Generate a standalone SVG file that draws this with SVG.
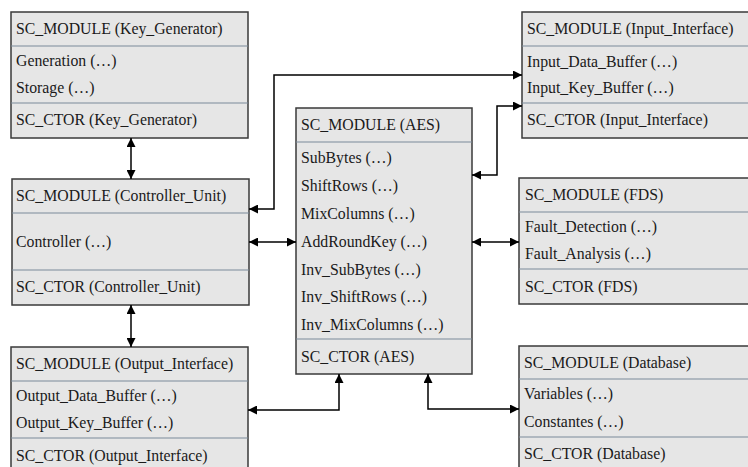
<svg xmlns="http://www.w3.org/2000/svg" width="748" height="467" viewBox="0 0 748 467">
<style>
.box{fill:#e6e6e6;stroke:#3a3a3a;stroke-width:1.5}
.div{stroke:#7a8a99;stroke-width:1.2}
text{font-family:'Liberation Serif','Times New Roman','DejaVu Serif',serif;font-size:15.8px;fill:#1a1a1a}
.c{fill:none;stroke:#000;stroke-width:1.5}
</style>
<defs>
<marker id="a" viewBox="0 0 10 10" refX="10" refY="5" markerWidth="9" markerHeight="9" markerUnits="userSpaceOnUse" orient="auto-start-reverse"><path d="M0,0L10,5L0,10z" fill="#000"/></marker>
</defs>
<rect width="748" height="467" fill="#fff"/>
<g id="key_generator">
<rect class="box" x="11" y="12" width="237" height="126"/>
<line class="div" x1="11" y1="46" x2="248" y2="46"/>
<line class="div" x1="11" y1="103" x2="248" y2="103"/>
<text x="16" y="34">SC_MODULE (Key_Generator)</text>
<text x="16" y="66">Generation (…)</text>
<text x="16" y="93">Storage (…)</text>
<text x="16" y="125">SC_CTOR (Key_Generator)</text>
</g>
<g id="controller_unit">
<rect class="box" x="12" y="179" width="237" height="126"/>
<line class="div" x1="12" y1="213" x2="249" y2="213"/>
<line class="div" x1="12" y1="270" x2="249" y2="270"/>
<text x="16" y="201">SC_MODULE (Controller_Unit)</text>
<text x="16" y="247">Controller (…)</text>
<text x="16" y="292">SC_CTOR (Controller_Unit)</text>
</g>
<g id="output_interface">
<rect class="box" x="11" y="347" width="237" height="130"/>
<line class="div" x1="11" y1="381" x2="248" y2="381"/>
<line class="div" x1="11" y1="438" x2="248" y2="438"/>
<text x="16" y="369">SC_MODULE (Output_Interface)</text>
<text x="16" y="401">Output_Data_Buffer (…)</text>
<text x="16" y="428">Output_Key_Buffer (…)</text>
<text x="16" y="461">SC_CTOR (Output_Interface)</text>
</g>
<g id="aes">
<rect class="box" x="296" y="108" width="176" height="266"/>
<line class="div" x1="296" y1="142" x2="472" y2="142"/>
<line class="div" x1="296" y1="339" x2="472" y2="339"/>
<text x="301" y="130">SC_MODULE (AES)</text>
<text x="301" y="163">SubBytes (…)</text>
<text x="301" y="191">ShiftRows (…)</text>
<text x="301" y="219">MixColumns (…)</text>
<text x="301" y="247">AddRoundKey (…)</text>
<text x="301" y="275">Inv_SubBytes (…)</text>
<text x="301" y="302">Inv_ShiftRows (…)</text>
<text x="301" y="330">Inv_MixColumns (…)</text>
<text x="301" y="362">SC_CTOR (AES)</text>
</g>
<g id="input_interface">
<rect class="box" x="522" y="12" width="240" height="126"/>
<line class="div" x1="522" y1="46" x2="762" y2="46"/>
<line class="div" x1="522" y1="103" x2="762" y2="103"/>
<text x="527" y="34">SC_MODULE (Input_Interface)</text>
<text x="527" y="67">Input_Data_Buffer (…)</text>
<text x="527" y="93">Input_Key_Buffer (…)</text>
<text x="527" y="125">SC_CTOR (Input_Interface)</text>
</g>
<g id="fds">
<rect class="box" x="519" y="178" width="243" height="126"/>
<line class="div" x1="519" y1="212" x2="762" y2="212"/>
<line class="div" x1="519" y1="269" x2="762" y2="269"/>
<text x="525" y="200">SC_MODULE (FDS)</text>
<text x="525" y="232">Fault_Detection (…)</text>
<text x="525" y="259">Fault_Analysis (…)</text>
<text x="525" y="292">SC_CTOR (FDS)</text>
</g>
<g id="database">
<rect class="box" x="519" y="346" width="243" height="131"/>
<line class="div" x1="519" y1="379" x2="762" y2="379"/>
<line class="div" x1="519" y1="437" x2="762" y2="437"/>
<text x="524" y="368">SC_MODULE (Database)</text>
<text x="524" y="399">Variables (…)</text>
<text x="524" y="427">Constantes (…)</text>
<text x="524" y="459">SC_CTOR (Database)</text>
</g>
<g id="connectors">
<line class="c" x1="131" y1="138" x2="131" y2="179" marker-start="url(#a)" marker-end="url(#a)"/>
<line class="c" x1="131" y1="305" x2="131" y2="347" marker-start="url(#a)" marker-end="url(#a)"/>
<polyline class="c" points="249,209 274,209 274,75 522,75" marker-start="url(#a)" marker-end="url(#a)"/>
<polyline class="c" points="472,175 497,175 497,106 522,106" marker-start="url(#a)" marker-end="url(#a)"/>
<line class="c" x1="249" y1="242" x2="296" y2="242" marker-start="url(#a)" marker-end="url(#a)"/>
<line class="c" x1="472" y1="242" x2="519" y2="242" marker-start="url(#a)" marker-end="url(#a)"/>
<polyline class="c" points="248,410 339,410 339,374" marker-start="url(#a)" marker-end="url(#a)"/>
<polyline class="c" points="428,374 428,409 519,409" marker-start="url(#a)" marker-end="url(#a)"/>
</g>
</svg>
